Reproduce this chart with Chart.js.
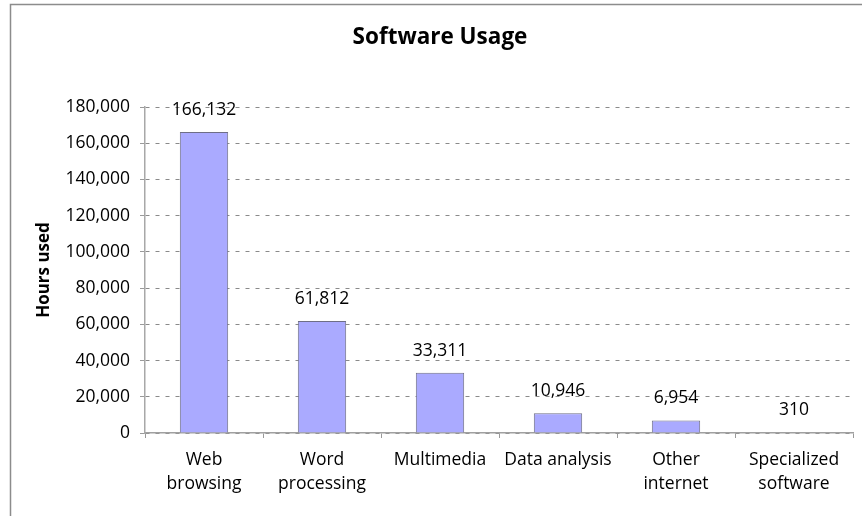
<!DOCTYPE html>
<html>
<head>
<meta charset="utf-8">
<script src="https://cdn.jsdelivr.net/npm/chart.js@4/dist/chart.umd.min.js"></script>
<style>
  html, body { margin: 0; padding: 0; background: #fff; overflow: hidden; }
  #wrap { position: relative; width: 862px; height: 516px; }
</style>
</head>
<body>
<div id="wrap"><canvas id="c" width="862" height="516"></canvas></div>
<script>
const categories = [["Web", "browsing"], ["Word", "processing"], "Multimedia", "Data analysis", ["Other", "internet"], ["Specialized", "software"]];
const hoursUsed = [166132, 61812, 33311, 10946, 6954, 310];
const yTicks = [0, 20000, 40000, 60000, 80000, 100000, 120000, 140000, 160000, 180000];

const FONT = "'Open Sans', 'DejaVu Sans', sans-serif";
const fmt = v => v.toLocaleString('en-US');

const framePlugin = {
  id: 'frame',
  beforeDraw(chart) {
    const ctx = chart.ctx;
    ctx.save();
    ctx.strokeStyle = '#8c8c8c';
    ctx.lineWidth = 1.5;
    ctx.strokeRect(10.5, 4.5, 1000, 1000);
    ctx.restore();
  }
};

const valueLabels = {
  id: 'valueLabels',
  afterDatasetsDraw(chart) {
    const ctx = chart.ctx;
    const meta = chart.getDatasetMeta(0);
    ctx.save();
    ctx.font = '17.5px ' + FONT;
    ctx.fillStyle = '#000';
    ctx.textAlign = 'center';
    ctx.textBaseline = 'middle';
    meta.data.forEach((bar, i) => {
      ctx.fillText(fmt(chart.data.datasets[0].data[i]), bar.x, bar.y - 22);
    });
    ctx.restore();
  }
};

new Chart(document.getElementById('c'), {
  type: 'bar',
  data: {
    labels: categories,
    datasets: [{
      label: 'Hours used',
      data: hoursUsed,
      backgroundColor: '#aaaaff',
      borderColor: '#6e6e86',
      borderWidth: 1,
      barPercentage: 0.41,
      categoryPercentage: 1.0
    }]
  },
  options: {
    responsive: false,
    animation: false,
    devicePixelRatio: 1,
    layout: { padding: { left: 27, right: 9, top: 0, bottom: 0 } },
    plugins: {
      legend: { display: false },
      tooltip: { enabled: false },
      title: {
        display: true,
        text: 'Software Usage',
        color: '#000',
        font: { family: FONT, size: 22.5, weight: 'bold', lineHeight: 1.2 },
        padding: { top: 24, bottom: 56 }
      }
    },
    scales: {
      x: {
        offset: true,
        afterFit(scale) { scale.height = 83; },
        grid: {
          offset: true,
          drawOnChartArea: false,
          drawTicks: true,
          tickLength: 5,
          color: '#9a9a9a'
        },
        border: { display: true, color: '#a0a0a0', width: 1.5 },
        ticks: {
          color: '#000',
          padding: 10,
          font: { family: FONT, size: 17.5, lineHeight: 1.38 }
        }
      },
      y: {
        min: 0,
        max: 180000,
        afterFit(scale) { scale.width = 118; },
        afterBuildTicks(scale) { scale.ticks = yTicks.map(v => ({ value: v })); },
        grid: {
          color: '#8a8a8a',
          lineWidth: 1,
          drawTicks: true,
          tickLength: 5,
          tickColor: '#9a9a9a',
          tickBorderDash: [0, 0]
        },
        border: { display: true, color: '#a8a8a8', width: 1.5, dash: [4, 6] },
        title: {
          display: true,
          text: 'Hours used',
          color: '#000',
          font: { family: FONT, size: 17, weight: 'bold', lineHeight: 1.2 },
          padding: { top: 7, bottom: 0 }
        },
        ticks: {
          color: '#000',
          padding: 10,
          font: { family: FONT, size: 17.5 },
          callback: v => fmt(v)
        }
      }
    }
  },
  plugins: [framePlugin, valueLabels]
});
</script>
</body>
</html>
